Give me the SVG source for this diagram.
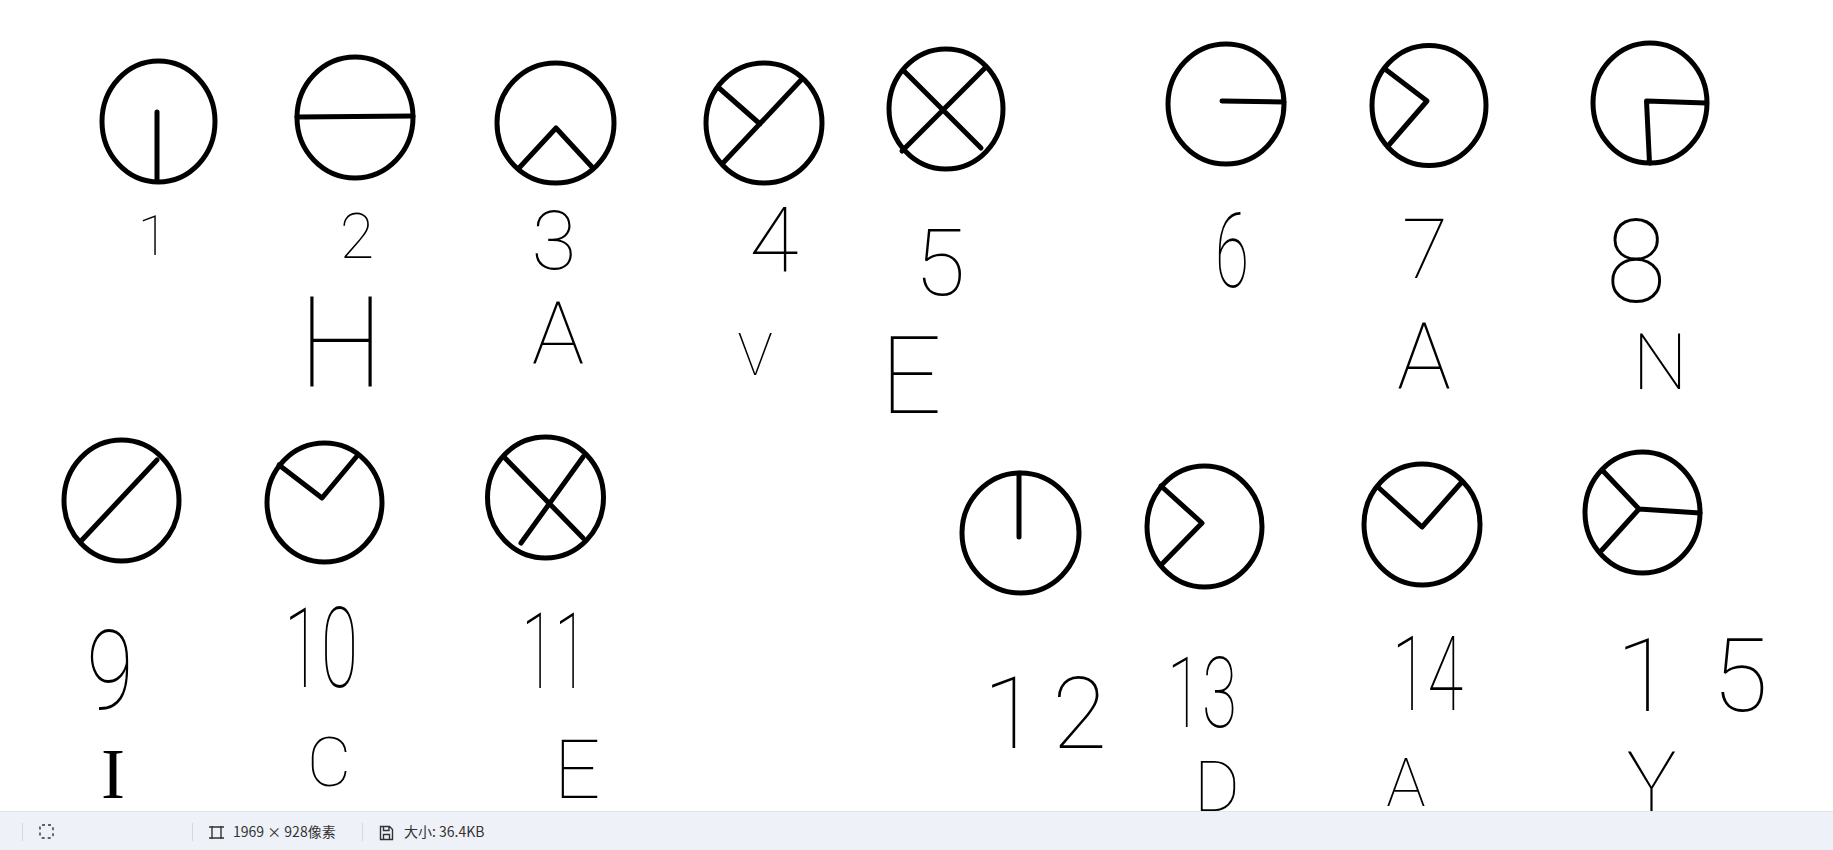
<svg xmlns="http://www.w3.org/2000/svg" width="1833" height="850" viewBox="0 0 1833 850">
<style>
.c{fill:none;stroke:#000;stroke-width:5}
.s{fill:none;stroke:#000;stroke-width:5;stroke-linecap:round;stroke-linejoin:round}
.h{font-family:Roboto,"Liberation Sans",sans-serif;font-weight:100;fill:#000;text-anchor:middle}
.sf{font-family:"Liberation Serif",serif;fill:#000;text-anchor:middle}
.bar{font-family:"Noto Sans CJK SC","Liberation Sans",sans-serif;font-size:14px;fill:#333}
.sep{stroke:#d5d9df;stroke-width:1}
.ic{fill:none;stroke:#333;stroke-width:1.4}
</style>
<rect width="1833" height="850" fill="#fff"/>
<g id="n1">
<ellipse class="c" cx="158.5" cy="121.5" rx="56.5" ry="60.5"/>
<path class="s" d="M157 112V181"/>
<text class="h" x="153" y="255" font-size="56">1</text>
</g>
<g id="n2">
<ellipse class="c" cx="355" cy="117.5" rx="58" ry="60.5"/>
<path class="s" d="M297 117L413 116"/>
<text class="h" x="357" y="258" font-size="63">2</text>
<text class="h" x="341" y="387" font-size="126" textLength="85" lengthAdjust="spacingAndGlyphs">H</text>
</g>
<g id="n3">
<ellipse class="c" cx="555.5" cy="123" rx="58.5" ry="60"/>
<path class="s" d="M519 168L556 128L592 167"/>
<text class="h" x="554" y="269" font-size="82">3</text>
<text class="h" x="558" y="364" font-size="88">A</text>
</g>
<g id="n4">
<ellipse class="c" cx="764" cy="123" rx="58" ry="60"/>
<path class="s" d="M723 163L802 79M719 88L760 124"/>
<text class="h" x="774" y="272" font-size="90">4</text>
<text class="h" x="755" y="375" font-size="59">V</text>
</g>
<g id="n5">
<ellipse class="c" cx="946" cy="109" rx="57" ry="60"/>
<path class="s" d="M904 71L981 148M985 68L902 151"/>
<text class="h" x="940" y="295" font-size="93">5</text>
<text class="h" x="911" y="413" font-size="108">E</text>
</g>
<g id="n6">
<ellipse class="c" cx="1226" cy="104" rx="58" ry="60"/>
<path class="s" d="M1222 101L1284 102"/>
<text class="h" x="1232" y="287" font-size="104" textLength="34" lengthAdjust="spacingAndGlyphs">6</text>
</g>
<g id="n7">
<ellipse class="c" cx="1429" cy="105.5" rx="57" ry="60"/>
<path class="s" d="M1385 69L1427 101L1388 146"/>
<text class="h" x="1425" y="278" font-size="84">7</text>
<text class="h" x="1424" y="389" font-size="92" textLength="54" lengthAdjust="spacingAndGlyphs">A</text>
</g>
<g id="n8">
<ellipse class="c" cx="1650" cy="103" rx="57" ry="60"/>
<path class="s" d="M1706 103L1646.5 101L1649.5 163"/>
<text class="h" x="1636" y="302" font-size="116" textLength="60" lengthAdjust="spacingAndGlyphs">8</text>
<text class="h" x="1660" y="389" font-size="78">N</text>
</g>
<g id="n9">
<ellipse class="c" cx="121.5" cy="500.5" rx="57.5" ry="60.5"/>
<path class="s" d="M82 540L157 460"/>
<text class="h" x="110" y="709" font-size="112" textLength="47" lengthAdjust="spacingAndGlyphs">9</text>
<text class="sf" x="113" y="798" font-size="72">I</text>
</g>
<g id="n10">
<ellipse class="c" cx="324.5" cy="502.5" rx="57.5" ry="59.5"/>
<path class="s" d="M279 465L322 498L357 456"/>
<text class="h" x="321" y="687" font-size="112" textLength="74" lengthAdjust="spacingAndGlyphs">10</text>
<text class="h" x="329" y="786" font-size="68">C</text>
</g>
<g id="n11">
<ellipse class="c" cx="545.5" cy="497.5" rx="58" ry="60.5"/>
<path class="s" d="M504 457L583 538M583 457L521 543"/>
<text class="h" x="554.5" y="688" font-size="106" textLength="66" lengthAdjust="spacingAndGlyphs">11</text>
<text class="h" x="577" y="798" font-size="82">E</text>
</g>
<g id="n12">
<ellipse class="c" cx="1020.5" cy="533" rx="58.5" ry="60"/>
<path class="s" d="M1019 473V537"/>
<text class="h" x="1045" y="748" font-size="100" textLength="124" lengthAdjust="spacing">12</text>
</g>
<g id="n13">
<ellipse class="c" cx="1204.5" cy="526.5" rx="57.5" ry="60.5"/>
<path class="s" d="M1161 486L1202 523L1161 565"/>
<text class="h" x="1202" y="727" font-size="98" textLength="70" lengthAdjust="spacingAndGlyphs">13</text>
<text class="h" x="1217" y="811" font-size="70">D</text>
</g>
<g id="n14">
<ellipse class="c" cx="1422" cy="524.5" rx="58" ry="60.5"/>
<path class="s" d="M1379 488L1422 527L1461 483"/>
<text class="h" x="1427.5" y="710" font-size="104" textLength="71" lengthAdjust="spacingAndGlyphs">14</text>
<text class="h" x="1406" y="806" font-size="66">A</text>
</g>
<g id="n15">
<ellipse class="c" cx="1642.5" cy="512.5" rx="57.5" ry="60.5"/>
<path class="s" d="M1604 472L1639 509L1700 513M1639 509L1602 550"/>
<text class="h" x="1692" y="711" font-size="102" textLength="152" lengthAdjust="spacing">15</text>
<text class="h" x="1651.5" y="811" font-size="84">Y</text>
</g>
<g id="statusbar">
<rect x="0" y="811" width="1833" height="39" fill="#eef2f8"/>
<line x1="0" y1="811.5" x2="1833" y2="811.5" stroke="#e2e6ec"/>
<line class="sep" x1="22.5" y1="823" x2="22.5" y2="841"/>
<rect x="40" y="825" width="13" height="13" rx="2" fill="none" stroke="#333" stroke-width="1.4" stroke-dasharray="3 3"/>
<line class="sep" x1="192.5" y1="823" x2="192.5" y2="841"/>
<path class="ic" d="M212 826V839M221 826V839M209 827H224M209 838H224"/>
<text class="bar" x="233" y="837">1969 × 928像素</text>
<line class="sep" x1="362.5" y1="823" x2="362.5" y2="841"/>
<path class="ic" d="M380.5 826.5H389.5L392.5 829.5V839.5H380.5ZM383.5 826.5V830.5H389V826.5M383.5 839.5V834.5H389.5V839.5"/>
<text class="bar" x="404" y="837">大小: 36.4KB</text>
</g>
</svg>
